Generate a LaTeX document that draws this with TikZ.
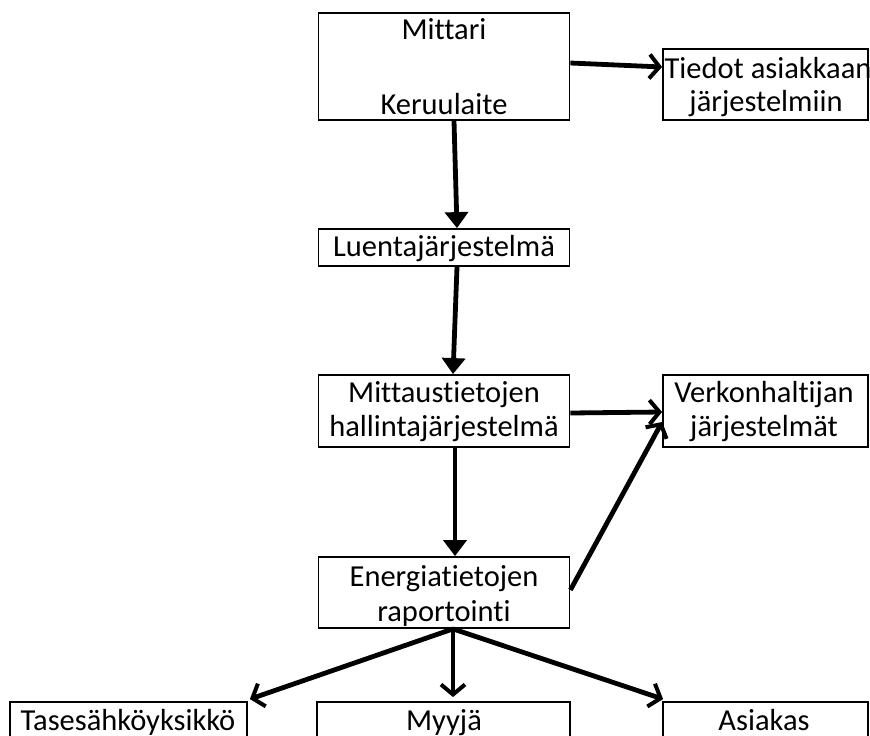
\documentclass[tikz,border=0pt]{standalone}
\usepackage{fontspec}
\setmainfont{Carlito}[Ligatures={NoCommon}]
\usetikzlibrary{arrows.meta}
\tikzset{
  box/.style={draw=black, line width=1.8pt},
  lbl/.style={inner sep=0pt, font=\fontsize{30.5}{34}\selectfont},
  conn/.style={line width=4.8pt},
  filled/.style={conn, -{Triangle[length=16pt,width=23pt]}},
  barb/.style={conn, -{Straight Barb[length=10pt,width=24pt,line width=4pt]}},
}
\begin{document}
\begin{tikzpicture}[x=1pt,y=-1pt]
\useasboundingbox (0,0) rectangle (870,736);
\clip (0,0) rectangle (870,736);
\fill[white] (0,0) rectangle (870,736);
% boxes
\node[box, minimum width=251pt, minimum height=107pt] (mit) at (444,66.5) {};
\node[box, minimum width=205pt, minimum height=71pt] (tie) at (765.5,84.5) {};
\node[box, minimum width=251pt, minimum height=37pt] (lue) at (444,247.5) {};
\node[box, minimum width=251pt, minimum height=72pt] (hal) at (444,411) {};
\node[box, minimum width=205pt, minimum height=72pt] (ver) at (765.5,411) {};
\node[box, minimum width=251pt, minimum height=71pt] (ene) at (444,592.5) {};
\node[box, minimum width=237pt, minimum height=70pt] (tas) at (128.5,737) {};
\node[box, minimum width=253pt, minimum height=70pt] (myy) at (443.5,737) {};
\node[box, minimum width=205pt, minimum height=70pt] (asi) at (765.5,737) {};
% texts
\node[lbl] (t1) at (444,29) {Mittari};
\node[lbl] (t2) at (444,104) {Keruulaite};
\node[lbl] (t3) at (768,68) {Tiedot asiakkaan};
\node[lbl] (t4) at (766,104) {järjestelmiin};
\node[lbl] (t5) at (444,249) {Luentajärjestelmä};
\node[lbl] (t6) at (444,395) {Mittaustietojen};
\node[lbl] (t7) at (444,429) {hallintajärjestelmä};
\node[lbl] (t8) at (764,395) {Verkonhaltijan};
\node[lbl] (t9) at (764,429) {järjestelmät};
\node[lbl] (t10) at (444,579) {Energiatietojen};
\node[lbl] (t11) at (444,613) {raportointi};
\node[lbl, anchor=base] (t12) at (128,730) {Tasesähköyksikkö};
\node[lbl, anchor=base] (t13) at (444,730) {Myyjä};
\node[lbl, anchor=base] (t14) at (764,730) {Asiakas};
% connectors
\draw[barb] ([yshift=3.5pt]mit.east) -- ([yshift=17.5pt]tie.west);
\draw[filled] ([xshift=10pt]mit.south) -- ([xshift=13pt]lue.north);
\draw[filled] ([xshift=13pt]lue.south) -- ([xshift=9pt]hal.north);
\draw[barb] ([yshift=-2pt]hal.east) -- ([yshift=-1pt]ver.west);
\draw[filled] ([xshift=11pt]hal.south) -- ([xshift=11pt]ene.north);
\draw[barb] ([yshift=2.5pt]ene.east) -- ([yshift=-11pt]ver.west);
\coordinate (eb) at ([xshift=9pt]ene.south);
\draw[barb] (eb) -- ([xshift=2pt,yshift=2pt]tas.north east);
\draw[barb] (eb) -- ([xshift=9.5pt,yshift=4pt]myy.north);
\draw[barb] (eb) -- ([xshift=1pt,yshift=2pt]asi.north west);
\end{tikzpicture}
\end{document}
